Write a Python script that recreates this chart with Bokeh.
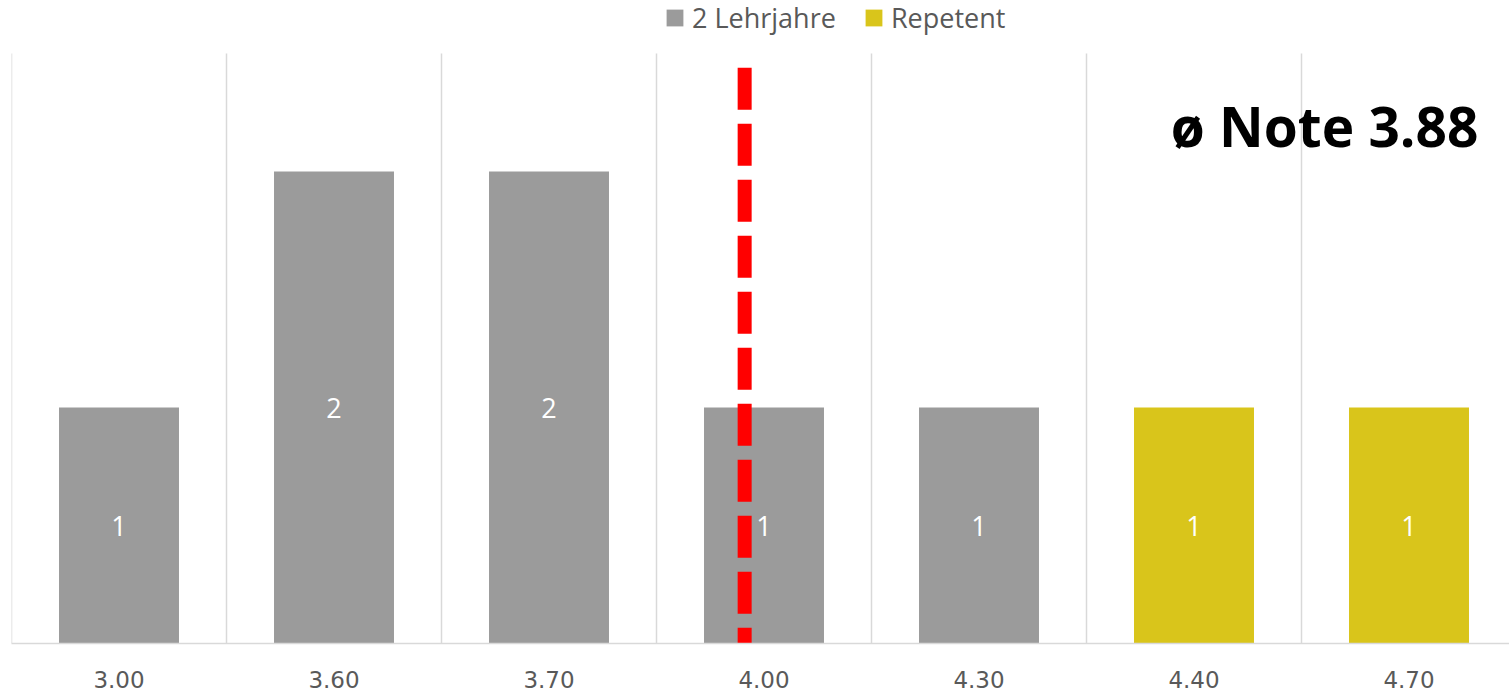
from bokeh.plotting import figure
from bokeh.models import Range1d, FixedTicker, Legend, LegendItem, ColumnDataSource, Label
from bokeh.core.properties import value
from bokeh.embed import file_html
from bokeh.resources import INLINE

# ---- data ----
grades = ["3.00", "3.60", "3.70", "4.00", "4.30", "4.40", "4.70"]
counts = [1, 2, 2, 1, 1, 1, 1]
groups = ["2 Lehrjahre", "2 Lehrjahre", "2 Lehrjahre", "2 Lehrjahre", "2 Lehrjahre", "Repetent", "Repetent"]
series_names = ["2 Lehrjahre", "Repetent"]
series_colors = ["#9b9b9b", "#d9c51b"]
mean_grade = 3.88
mean_marker_pos = 2.91   # where the source places the mean marker along the category axis
mean_marker_top = 2.44
y_max = 2.5

FONT = "Open Sans"

W, H = 1509, 693
FRAME_W, FRAME_H = 1498, 643
PX_PER_UNIT = 236
p = figure(width=W, height=H, output_backend="svg", toolbar_location=None,
           x_range=Range1d(-0.5, -0.5 + FRAME_W / 215),
           y_range=Range1d(0, FRAME_H / PX_PER_UNIT),
           min_border_left=11, min_border_right=0, min_border_top=0, min_border_bottom=50)
p.outline_line_color = None
p.background_fill_color = "white"
p.yaxis.visible = False
p.ygrid.grid_line_color = None
p.xgrid.grid_line_color = None

idx = list(range(len(grades)))
bounds = [i - 0.5 for i in idx]
# category separators, up to the value-axis maximum
p.segment(x0=bounds, y0=[0] * len(bounds), x1=bounds, y1=[y_max] * len(bounds),
          line_color="#d9d9d9", line_width=1.5)

p.xaxis.ticker = FixedTicker(ticks=idx)
p.xaxis.major_label_overrides = {i: g for i, g in zip(idx, grades)}
p.xaxis.major_tick_line_color = None
p.xaxis.minor_tick_line_color = None
p.xaxis.axis_line_color = "#d9d9d9"
p.xaxis.axis_line_width = 1.5
p.xaxis.major_label_text_font = "DejaVu Sans"
p.xaxis.major_label_text_font_size = "23px"
p.xaxis.major_label_text_color = "#595959"
p.xaxis.major_label_standoff = 21

items = []
for name, color in zip(series_names, series_colors):
    xs = [i for i, g in zip(idx, groups) if g == name]
    ys = [c for c, g in zip(counts, groups) if g == name]
    src = ColumnDataSource(dict(x=xs, top=ys))
    r = p.vbar(x="x", top="top", bottom=0, width=0.558, source=src,
               fill_color=color, line_color=None)
    items.append(LegendItem(label=name, renderers=[r]))

# mean marker line
p.segment(x0=[mean_marker_pos], y0=[mean_marker_top], x1=[mean_marker_pos], y1=[0],
          line_color="#ff0000", line_width=14, line_dash="42 14", line_cap="butt")

# data labels (on top of line)
lsrc = ColumnDataSource(dict(x=idx, y=[c / 2 for c in counts], t=[str(c) for c in counts]))
p.text(x="x", y="y", text="t", source=lsrc, text_align="center", text_baseline="middle",
       text_color="white", text_font=value(FONT), text_font_size="27px")

p.add_layout(Label(x=6.323, y=2.195, text="ø Note %.2f" % mean_grade, text_align="right",
                   text_baseline="alphabetic", text_font=FONT, text_font_size="55px",
                   text_font_style="bold", text_color="black"))

legend = Legend(items=items, orientation="horizontal", location=(653, FRAME_H - 36),
                padding=0, margin=0, spacing=27, border_line_color=None,
                background_fill_alpha=0, glyph_width=21, glyph_height=21,
                label_standoff=7, label_text_font=FONT, label_text_font_size="27px",
                label_text_color="#595959")
p.add_layout(legend, "center")

open("out.html", "w").write(file_html(p, INLINE))
